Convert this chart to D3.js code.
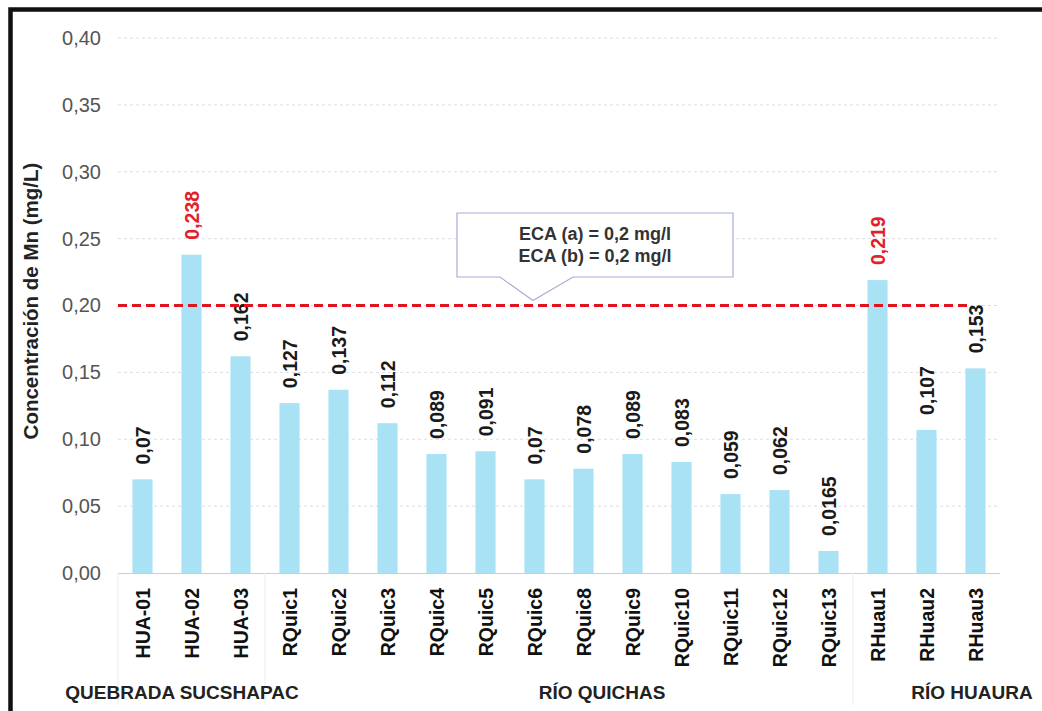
<!DOCTYPE html>
<html><head><meta charset="utf-8">
<script src="https://cdn.jsdelivr.net/npm/d3@7/dist/d3.min.js"></script>
<style>html,body{margin:0;padding:0;background:#fff;}svg{display:block;font-family:"Liberation Sans",Arial,sans-serif;}</style>
</head><body>
<svg id="c" width="1042" height="711"></svg>
<script>
const categories = ["HUA-01","HUA-02","HUA-03","RQuic1","RQuic2","RQuic3","RQuic4","RQuic5","RQuic6","RQuic8","RQuic9","RQuic10","RQuic11","RQuic12","RQuic13","RHuau1","RHuau2","RHuau3"];
const values = [0.07,0.238,0.162,0.127,0.137,0.112,0.089,0.091,0.07,0.078,0.089,0.083,0.059,0.062,0.0165,0.219,0.107,0.153];
const yTicks = [0,0.05,0.10,0.15,0.20,0.25,0.30,0.35,0.40];
const groups = [
  {name:"QUEBRADA SUCSHAPAC", first:"HUA-01", last:"HUA-03"},
  {name:"RÍO QUICHAS", first:"RQuic1", last:"RQuic13"},
  {name:"RÍO HUAURA", first:"RHuau1", last:"RHuau3"}
];
const ecaLimit = 0.2;
const ecaText = ["ECA (a) = 0,2 mg/l","ECA (b) = 0,2 mg/l"];
const yTitle = "Concentración de Mn (mg/L)";

const svg = d3.select("#c");
const L = 118, R = 1000, T = 38, B = 573;
const x = d3.scaleBand().domain(categories).range([L, R]).paddingInner(0.59).paddingOuter(0.295);
const y = d3.scaleLinear().domain([0, 0.4]).range([B, T]);
const fmt = v => String(v).replace(".", ",");
const fmtTick = d3.format(".2f");

// frame
svg.append("rect").attr("x",10.5).attr("y",9.5).attr("width",1040).attr("height",730)
  .attr("fill","none").attr("stroke","#111").attr("stroke-width",4.5);

// gridlines
svg.append("g").selectAll("line").data(yTicks.filter(d=>d>0)).join("line")
  .attr("x1",L).attr("x2",R).attr("y1",d=>y(d)).attr("y2",d=>y(d))
  .attr("stroke","#dcdce4").attr("stroke-width",1).attr("stroke-dasharray","3,3");

// y axis labels
const yAxis = d3.axisLeft(y).tickValues(yTicks).tickFormat(d=>fmtTick(d).replace(".", ",")).tickSize(0).tickPadding(17);
const ga = svg.append("g").attr("transform",`translate(${L},0)`).call(yAxis);
ga.select(".domain").remove();
ga.selectAll("text").attr("font-size",20).attr("fill","#555").attr("font-family","Liberation Sans, Arial, sans-serif");

// y title
svg.append("text").attr("transform",`translate(38,301) rotate(-90)`)
  .attr("text-anchor","middle").attr("font-size",20.5).attr("font-weight","bold").attr("fill","#222").text(yTitle);

// baseline
svg.append("line").attr("x1",L).attr("x2",R).attr("y1",B+0.5).attr("y2",B+0.5).attr("stroke","#c9cbe0").attr("stroke-width",1);

// group dividers
const bounds = [L];
groups.forEach((g,i)=>{ if(i<groups.length-1){ bounds.push(x(g.last)+x.bandwidth()+ (x.step()-x.bandwidth())/2); } });
svg.append("g").selectAll("line").data(bounds).join("line")
  .attr("x1",d=>d).attr("x2",d=>d).attr("y1",B).attr("y2",705)
  .attr("stroke","#ebebeb").attr("stroke-width",1);

// bars
svg.append("g").selectAll("rect").data(values).join("rect")
  .attr("x",(d,i)=>x(categories[i])).attr("width",x.bandwidth())
  .attr("y",d=>y(d)).attr("height",d=>B-y(d)).attr("fill","#a9e2f4");

// value labels
svg.append("g").selectAll("text").data(values).join("text")
  .attr("transform",(d,i)=>`translate(${x(categories[i])+x.bandwidth()/2+7},${y(d)-15}) rotate(-90)`)
  .attr("text-anchor","start").attr("font-size",19.5).attr("font-weight","bold")
  .attr("fill",d=>d>ecaLimit?"#e2202a":"#1a1a1a").text(d=>fmt(d));

// x labels
svg.append("g").selectAll("text").data(categories).join("text")
  .attr("transform",d=>`translate(${x(d)+x.bandwidth()/2+7},588) rotate(-90)`)
  .attr("text-anchor","end").attr("font-size",19.5).attr("font-weight","bold").attr("fill","#111").text(d=>d);

// group labels
const gx = [182, 602, 972];
svg.append("g").selectAll("text").data(groups).join("text")
  .attr("x",(d,i)=>gx[i]).attr("y",699).attr("text-anchor","middle")
  .attr("font-size",19).attr("font-weight","bold").attr("fill","#222").text(d=>d.name);

// ECA dashed line
svg.append("line").attr("x1",L).attr("x2",968).attr("y1",y(ecaLimit)).attr("y2",y(ecaLimit))
  .attr("stroke","#e0141e").attr("stroke-width",3).attr("stroke-dasharray","9,5");

// callout
const bx0=457, bx1=733, by0=213, by1=277, tipX=533, tipY=y(ecaLimit)-5;
svg.append("path")
  .attr("d",`M${bx0},${by0} L${bx1},${by0} L${bx1},${by1} L573,${by1} L${tipX},${tipY} L500,${by1} L${bx0},${by1} Z`)
  .attr("fill","#fff").attr("stroke","#a7acd8").attr("stroke-width",1.2);
svg.append("g").selectAll("text").data(ecaText).join("text")
  .attr("x",(bx0+bx1)/2).attr("y",(d,i)=>240+i*22).attr("text-anchor","middle")
  .attr("font-size",18).attr("font-weight","bold").attr("fill","#333").text(d=>d);
</script>
</body></html>
